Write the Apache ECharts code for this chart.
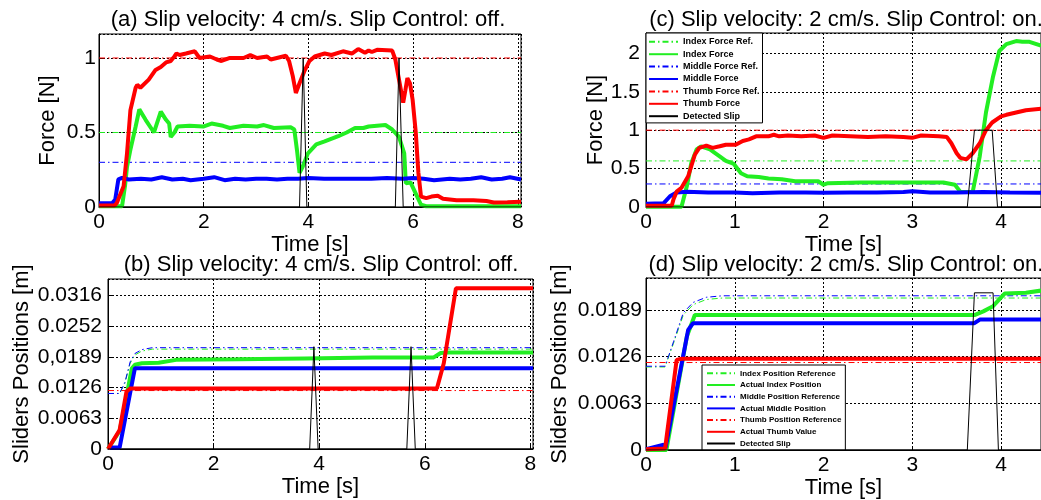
<!DOCTYPE html>
<html><head><meta charset="utf-8">
<script src="https://cdn.jsdelivr.net/npm/echarts@6/dist/echarts.min.js"></script>
<style>html,body{margin:0;padding:0;background:#fff}#c{width:1041px;height:500px}</style>
</head><body><div id="c"></div>
<script>
// ---------- tick labels ----------
const forceTicksA = ['0', '0.5', '1'];
const forceTicksC = ['0', '0.5', '1', '1.5', '2'];
const posTicksB = ['0', '0.0063', '0.0126', '0,0189', '0.0252', '0.0316'];
const posTicksD = ['0', '0.0063', '0.0126', '0.0189'];
const timeTicksAB = ['0', '2', '4', '6', '8'];
const timeTicksCD = ['0', '1', '2', '3', '4'];

// ---------- (a) forces, 4 cm/s, control off ----------
const aIndexRef = [[0, 0.5], [8.06, 0.5]];
const aMiddleRef = [[0, 0.3], [8.06, 0.3]];
const aThumbRef = [[0, 1], [8.06, 1]];
const aIndexForce = [[0,0.005],[0.44,0.005],[0.5,0.15],[0.535,0.27],[0.6,0.385],[0.7,0.54],[0.77,0.655],[0.89,0.585],[1.05,0.5],[1.18,0.64],[1.28,0.585],[1.34,0.56],[1.37,0.47],[1.44,0.5],[1.5,0.54],[1.73,0.545],[1.99,0.54],[2.15,0.56],[2.37,0.545],[2.5,0.53],[2.76,0.545],[3.02,0.54],[3.15,0.55],[3.34,0.53],[3.66,0.535],[3.73,0.52],[3.78,0.385],[3.83,0.23],[3.89,0.27],[3.99,0.36],[4.15,0.42],[4.31,0.44],[4.57,0.475],[4.73,0.5],[4.89,0.53],[5.05,0.53],[5.15,0.54],[5.47,0.55],[5.6,0.52],[5.73,0.47],[5.83,0.36],[5.86,0.16],[5.95,0.165],[6.05,0.09],[6.15,0.015],[6.25,0.005],[8.06,0.005]];
const aMiddleForce = [[0,0.025],[0.25,0.025],[0.31,0.05],[0.37,0.185],[0.44,0.195],[0.57,0.185],[0.8,0.19],[1.0,0.185],[1.2,0.2],[1.4,0.185],[1.6,0.19],[1.75,0.18],[2.0,0.19],[2.2,0.2],[2.4,0.18],[2.6,0.19],[2.8,0.185],[3.0,0.19],[3.2,0.19],[3.4,0.185],[3.6,0.19],[3.8,0.19],[4.0,0.195],[4.3,0.19],[4.6,0.19],[4.9,0.19],[5.2,0.19],[5.5,0.195],[5.8,0.19],[6.0,0.195],[6.2,0.19],[6.4,0.18],[6.7,0.19],[6.9,0.185],[7.1,0.19],[7.3,0.2],[7.5,0.185],[7.7,0.19],[7.85,0.2],[8.06,0.185]];
const aThumbForce = [[0,0.01],[0.3,0.01],[0.34,0.027],[0.47,0.14],[0.535,0.36],[0.6,0.65],[0.7,0.8],[0.73,0.82],[0.79,0.8],[0.95,0.855],[1.08,0.92],[1.18,0.94],[1.28,0.97],[1.37,0.98],[1.44,1.01],[1.48,1.03],[1.54,1.02],[1.66,1.03],[1.83,1.045],[1.92,1.0],[2.12,1.01],[2.25,0.99],[2.34,0.98],[2.5,1.0],[2.76,1.0],[2.89,1.02],[3.02,1.0],[3.21,1.01],[3.28,0.99],[3.57,1.015],[3.63,0.98],[3.7,0.88],[3.76,0.765],[3.83,0.83],[3.92,0.91],[4.02,0.98],[4.12,1.01],[4.31,1.03],[4.44,1.02],[4.66,1.045],[4.83,1.03],[4.95,1.06],[5.08,1.035],[5.15,1.05],[5.21,1.04],[5.31,1.055],[5.6,1.05],[5.66,0.99],[5.73,0.855],[5.81,0.7],[5.85,0.78],[5.89,0.865],[5.94,0.83],[5.99,0.72],[6.05,0.5],[6.1,0.23],[6.15,0.07],[6.25,0.06],[6.35,0.07],[6.47,0.075],[6.57,0.055],[6.83,0.045],[7.15,0.045],[7.4,0.04],[7.54,0.03],[7.8,0.032],[8.06,0.035]];
const aSlip = [[0,0],[3.83,0],[3.9,1],[3.97,0],[5.66,0],[5.73,1],[5.81,0],[8.06,0]];

// ---------- (b) positions, 4 cm/s, control off ----------
const bIndexRef = [[0,0.0114],[0.22,0.0114],[0.32,0.0135],[0.42,0.0176],[0.51,0.0193],[0.64,0.0201],[0.84,0.0205],[8.05,0.0205]];
const bMiddleRef = [[0,0.0114],[0.22,0.0114],[0.32,0.0137],[0.42,0.0179],[0.51,0.0196],[0.64,0.0204],[0.84,0.0208],[8.05,0.0208]];
const bThumbRef = [[0,0.012],[8.05,0.012]];
const bIndexPos = [[0,0],[0.22,0.0037],[0.3,0.008],[0.45,0.0165],[0.51,0.0173],[0.64,0.0176],[0.96,0.0177],[1.29,0.0183],[2.44,0.0184],[3.73,0.0186],[5.01,0.0188],[6.17,0.0188],[6.3,0.0197],[6.43,0.0198],[8.05,0.0198]];
const bMiddlePos = [[0,0.0003],[0.22,0.0003],[0.51,0.0166],[8.05,0.0166]];
const bThumbPos = [[0,0],[0.22,0.0039],[0.35,0.0118],[0.42,0.0124],[6.23,0.0124],[6.36,0.0176],[6.59,0.033],[8.05,0.033]];
const bSlip = [[0,0],[3.82,0],[3.9,0.021],[3.98,0],[5.66,0],[5.74,0.021],[5.82,0],[8.05,0]];

// ---------- (c) forces, 2 cm/s, control on ----------
const cIndexRef = [[0,0.6],[4.45,0.6]];
const cMiddleRef = [[0,0.3],[4.45,0.3]];
const cThumbRef = [[0,1],[4.45,1]];
const cIndexForce = [[0,0.002],[0.4,0.002],[0.46,0.27],[0.51,0.57],[0.57,0.75],[0.62,0.79],[0.72,0.75],[0.83,0.66],[0.9,0.6],[0.99,0.56],[1.07,0.44],[1.14,0.4],[1.27,0.39],[1.38,0.37],[1.53,0.36],[1.68,0.335],[1.94,0.335],[2.0,0.29],[2.05,0.31],[2.42,0.32],[2.8,0.32],[3.35,0.32],[3.48,0.29],[3.54,0.2],[3.61,0.195],[3.68,0.195],[3.76,0.66],[3.83,1.23],[3.91,1.7],[3.98,2.03],[4.06,2.12],[4.17,2.16],[4.24,2.15],[4.32,2.15],[4.45,2.1]];
const cMiddleForce = [[0,0.043],[0.2,0.05],[0.27,0.14],[0.345,0.19],[0.46,0.2],[0.7,0.19],[1.0,0.19],[1.2,0.18],[1.5,0.19],[1.8,0.19],[2.0,0.185],[2.3,0.19],[2.6,0.19],[2.9,0.195],[3.0,0.205],[3.2,0.19],[3.5,0.19],[3.8,0.195],[4.1,0.19],[4.45,0.185]];
const cThumbForce = [[0,0.017],[0.29,0.017],[0.31,0.1],[0.345,0.2],[0.4,0.25],[0.475,0.4],[0.55,0.68],[0.6,0.77],[0.68,0.8],[0.75,0.77],[0.83,0.79],[0.9,0.81],[1.01,0.81],[1.09,0.86],[1.16,0.88],[1.24,0.92],[1.38,0.92],[1.44,0.94],[1.5,0.92],[1.6,0.93],[1.75,0.92],[1.9,0.93],[2.0,0.9],[2.1,0.93],[2.3,0.92],[2.5,0.91],[2.7,0.92],[2.9,0.91],[3.0,0.9],[3.1,0.93],[3.3,0.92],[3.39,0.91],[3.44,0.83],[3.5,0.7],[3.54,0.64],[3.61,0.62],[3.68,0.7],[3.76,0.83],[3.83,1.0],[3.9,1.1],[4.0,1.18],[4.06,1.2],[4.17,1.23],[4.28,1.26],[4.45,1.28]];
const cSlip = [[0,0],[3.62,0],[3.7,1],[3.9,1],[3.96,0],[4.45,0]];

// ---------- (d) positions, 2 cm/s, control on ----------
const dIndexRef = [[0,0.0112],[0.215,0.0112],[0.31,0.0144],[0.42,0.0182],[0.53,0.0196],[0.68,0.0203],[0.86,0.0205],[4.45,0.0205]];
const dMiddleRef = [[0,0.0113],[0.215,0.0113],[0.31,0.0146],[0.42,0.0185],[0.53,0.0199],[0.68,0.0206],[0.86,0.0208],[4.45,0.0208]];
const dThumbRef = [[0,0.0118],[4.45,0.0118]];
const dIndexPos = [[0,0],[0.23,0],[0.46,0.0153],[0.55,0.0182],[3.7,0.0182],[3.8,0.0187],[3.91,0.0194],[4.04,0.0211],[4.28,0.0212],[4.45,0.0215]];
const dMiddlePos = [[0,0.0001],[0.2,0.0007],[0.22,0.0003],[0.475,0.0162],[0.53,0.0171],[3.7,0.0171],[3.76,0.0176],[4.45,0.0176]];
const dThumbPos = [[0,0.0001],[0.215,0.0002],[0.345,0.01215],[0.4,0.0123],[4.45,0.0123]];
const dSlip = [[0,0],[3.62,0],[3.7,0.0212],[3.91,0.0212],[3.97,0],[4.45,0]];

// ---------- styling ----------
const FONT = 'Liberation Sans, Arial, Helvetica, sans-serif';
const GREEN = '#22ee22', BLUE = '#0000ff', RED = '#ff0000';
const DASHDOT = [6, 3, 1.5, 3];

function lookup(labels, step) {
  return function (v) {
    const k = Math.round(v / step);
    if (Math.abs(v - k * step) > step * 1e-6) return '';
    return labels[k] !== undefined ? labels[k] : '';
  };
}
function xAx(gi, max, step, labels, nameGap) {
  return {
    type: 'value', gridIndex: gi, min: 0, max: max, interval: step,
    name: 'Time [s]', nameLocation: 'middle', nameGap: nameGap,
    nameTextStyle: { color: '#000', fontSize: 22, fontFamily: FONT },
    axisLine: { show: true, onZero: false, lineStyle: { color: '#000', width: 1 } },
    axisTick: { show: true, inside: true, length: 4, lineStyle: { color: '#000' } },
    axisLabel: { color: '#000', fontSize: 21, fontFamily: FONT, margin: 5, showMaxLabel: false, formatter: lookup(labels, step) },
    splitLine: { show: true, lineStyle: { color: '#000', type: [2, 2], width: 1 } }
  };
}
function yAx(gi, max, step, labels, name, nameGap, margin) {
  return {
    type: 'value', gridIndex: gi, min: 0, max: max, interval: step,
    name: name, nameLocation: 'middle', nameGap: nameGap, nameRotate: 90,
    nameTextStyle: { color: '#000', fontSize: 22, fontFamily: FONT },
    axisLine: { show: true, lineStyle: { color: '#000', width: 1 } },
    axisTick: { show: true, inside: true, length: 4, lineStyle: { color: '#000' } },
    axisLabel: { color: '#000', fontSize: 21, fontFamily: FONT, margin: margin, showMaxLabel: false, formatter: lookup(labels, step) },
    splitLine: { show: true, lineStyle: { color: '#000', type: [2, 2], width: 1 } }
  };
}
function ref(name, gi, data, color) {
  return { name: name, type: 'line', xAxisIndex: gi, yAxisIndex: gi, data: data, symbol: 'none', showSymbol: false,
    lineStyle: { color: color, width: 1, type: DASHDOT }, itemStyle: { color: color, opacity: 0 }, animation: false, z: 2 };
}
function thick(name, gi, data, color) {
  return { name: name, type: 'line', xAxisIndex: gi, yAxisIndex: gi, data: data, symbol: 'none', showSymbol: false,
    lineStyle: { color: color, width: 4 }, itemStyle: { color: color, opacity: 0 }, animation: false, z: 3 };
}
function slip(name, gi, data) {
  return { name: name, type: 'line', xAxisIndex: gi, yAxisIndex: gi, data: data, symbol: 'none', showSymbol: false,
    lineStyle: { color: '#000', width: 1 }, itemStyle: { color: '#000', opacity: 0 }, animation: false, z: 4 };
}
function ttl(text, x, y) {
  return { text: text, left: x, top: y, textAlign: 'center', padding: 0,
    textStyle: { color: '#000', fontSize: 22, fontWeight: 'normal', fontFamily: FONT } };
}

const gridBase = { show: true, backgroundColor: '#fff', borderColor: '#000', borderWidth: 1, containLabel: false };

const option = {
  animation: false,
  backgroundColor: '#fff',
  title: [
    ttl('(a) Slip velocity: 4 cm/s. Slip Control: off.', 308, 9),
    ttl('(b) Slip velocity: 4 cm/s. Slip Control: off.', 321, 254),
    ttl('(c) Slip velocity: 2 cm/s. Slip Control: on.', 846, 9),
    ttl('(d) Slip velocity: 2 cm/s. Slip Control: on.', 846, 254)
  ],
  grid: [
    Object.assign({ left: 99, top: 34, width: 422, height: 173 }, gridBase),
    Object.assign({ left: 108, top: 279, width: 425, height: 170 }, gridBase),
    Object.assign({ left: 646, top: 33, width: 400, height: 174 }, gridBase),
    Object.assign({ left: 646, top: 278, width: 400, height: 172 }, gridBase)
  ],
  xAxis: [
    xAx(0, 8.06, 2, timeTicksAB, 26),
    xAx(1, 8.05, 2, timeTicksAB, 27),
    xAx(2, 4.45, 1, timeTicksCD, 25),
    xAx(3, 4.45, 1, timeTicksCD, 24)
  ],
  yAxis: [
    yAx(0, 1.161, 0.5, forceTicksA, 'Force [N]', 40, 3),
    yAx(1, 0.0349, 0.0063, posTicksB, 'Sliders Positions [m]', 75, 6),
    yAx(2, 2.265, 0.5, forceTicksC, 'Force [N]', 38, 6),
    yAx(3, 0.0232, 0.0063, posTicksD, 'Sliders Positions [m]', 75, 4)
  ],
  legend: [
    { show: true, left: 646, top: 33, orient: 'vertical', selectedMode: false,
      data: ['Index Force Ref.', 'Index Force', 'Middle Force Ref.', 'Middle Force', 'Thumb Force Ref.', 'Thumb Force', 'Detected Slip'],
      itemWidth: 29, itemHeight: 11, itemGap: 3.4, padding: [4.3, 3, 2.2, 2],
      itemStyle: { opacity: 0 },
      backgroundColor: '#fff', borderColor: '#000', borderWidth: 1, borderRadius: 0,
      textStyle: { color: '#000', fontSize: 9, fontWeight: 'bold', fontFamily: FONT } },
    { show: true, left: 702, top: 365, orient: 'vertical', selectedMode: false,
      data: ['Index Position Reference', 'Actual Index Position', 'Middle Position Reference', 'Actual Middle Position', 'Thumb Position Reference', 'Actual Thumb Value', 'Detected Slip '],
      itemWidth: 28, itemHeight: 10, itemGap: 3.7, padding: [4.3, 4, 2.5, 4],
      itemStyle: { opacity: 0 },
      backgroundColor: '#fff', borderColor: '#000', borderWidth: 1, borderRadius: 0,
      textStyle: { color: '#000', fontSize: 8, fontWeight: 'bold', fontFamily: FONT } }
  ],
  series: [
    ref('a Index Ref', 0, aIndexRef, GREEN),
    ref('a Middle Ref', 0, aMiddleRef, BLUE),
    ref('a Thumb Ref', 0, aThumbRef, RED),
    thick('a Index', 0, aIndexForce, GREEN),
    thick('a Middle', 0, aMiddleForce, BLUE),
    thick('a Thumb', 0, aThumbForce, RED),
    slip('a Slip', 0, aSlip),

    ref('b Index Ref', 1, bIndexRef, GREEN),
    ref('b Middle Ref', 1, bMiddleRef, BLUE),
    ref('b Thumb Ref', 1, bThumbRef, RED),
    thick('b Index', 1, bIndexPos, GREEN),
    thick('b Middle', 1, bMiddlePos, BLUE),
    thick('b Thumb', 1, bThumbPos, RED),
    slip('b Slip', 1, bSlip),

    ref('Index Force Ref.', 2, cIndexRef, GREEN),
    thick('Index Force', 2, cIndexForce, GREEN),
    ref('Middle Force Ref.', 2, cMiddleRef, BLUE),
    thick('Middle Force', 2, cMiddleForce, BLUE),
    ref('Thumb Force Ref.', 2, cThumbRef, RED),
    thick('Thumb Force', 2, cThumbForce, RED),
    slip('Detected Slip', 2, cSlip),

    ref('Index Position Reference', 3, dIndexRef, GREEN),
    thick('Actual Index Position', 3, dIndexPos, GREEN),
    ref('Middle Position Reference', 3, dMiddleRef, BLUE),
    thick('Actual Middle Position', 3, dMiddlePos, BLUE),
    ref('Thumb Position Reference', 3, dThumbRef, RED),
    thick('Actual Thumb Value', 3, dThumbPos, RED),
    slip('Detected Slip ', 3, dSlip)
  ]
};
option.legend[1].formatter = function (n) { return n.trim(); };

const chart = echarts.init(document.getElementById('c'), null, { renderer: 'canvas' });
chart.setOption(option);
</script></body></html>
